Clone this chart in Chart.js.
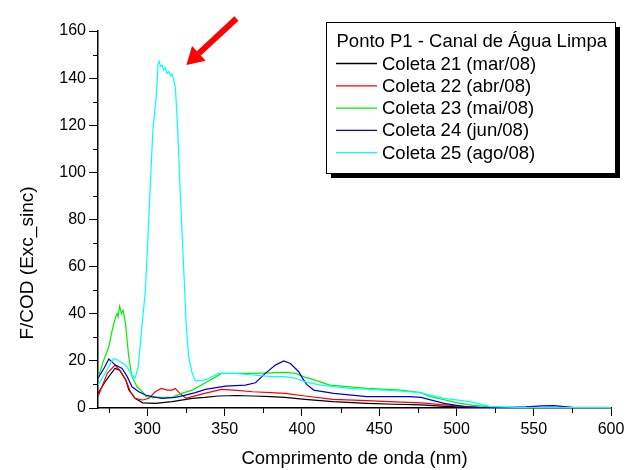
<!DOCTYPE html>
<html>
<head>
<meta charset="utf-8">
<script src="https://cdn.jsdelivr.net/npm/chart.js@4.4.0/dist/chart.umd.min.js"></script>
<style>
html,body{margin:0;padding:0;background:#fff;}
</style>
</head>
<body>
<canvas id="c" width="626" height="470"></canvas>
<script>
'use strict';

// Spectra: wavelength (nm) and F/COD per collection
const wl21 = [268,272,275,279,282,286,288,292,297,305,316,329,337,346,358,368,380,389,402,420,442,460,477,490,500,510,520,600];
const f21  = [6.2,10.5,13.3,16.8,16.1,11.9,7.6,4.1,2.2,2.0,2.7,4.1,4.5,5.1,5.3,5.1,4.8,4.5,3.7,2.7,2.0,1.6,1.3,0.8,0.5,0.3,0.1,0];

const wl22 = [268,274,279,282,286,289,292,297,301,305,309,313,316,318,321,325,329,337,348,358,368,380,389,402,420,442,460,477,492,505,513,525,600];
const f22  = [4.8,14.7,18.2,16.1,11.9,6.9,4.1,3.4,4.1,6.9,8.3,7.6,7.6,8.3,6.2,4.1,4.8,6.2,7.9,7.5,6.9,6.5,6.2,5.1,3.7,3.1,2.6,2.2,1.3,0.7,0.3,0.1,0];

const wl23 = [268,271.7,275,277.2,278.8,280.3,281,282,283.2,284.2,285.8,287.9,290,293.3,297.7,299,305,316,322,329,337,348,358,368,380,389,396,402,405,418,442,464,477,483,492,502,510,520,530,600];
const f23  = [12.7,20.3,26,33,37.3,40.1,38.7,43.2,40.1,41.5,35.9,21.7,13.3,9,6.2,4.8,4.5,4.5,6.2,7.6,10.5,14.7,14.7,14.7,14.9,15.1,14.7,13,12.6,9.7,8.3,7.6,6.5,4.8,3.5,2,1.2,0.6,0.3,0.1];

const wl24 = [268,272,275,279.3,283.6,286.9,290,294.4,298.7,303,309.5,318,324.6,331,337.5,350.5,363.4,369.9,376.3,382.8,388.2,392.5,397.9,400,403,407.6,420.5,442,470,477,492,505,515,530,545,555,563,570,578,600];
const f24  = [12.6,17,20.8,18.2,16.8,13.3,9,6.9,5.5,4.8,4.1,4.5,5.5,6.5,7.9,9.3,9.7,10.7,14.7,18.2,20,18.9,15.4,13,10,7.6,6.2,4.8,4.8,4.5,2,0.6,0.3,0.2,0.5,0.9,1.0,0.6,0.1,0];

const wl25 = [268,272,275,278,281,284,286,290,292,294,296.6,298.7,300.5,302,303.5,305.8,306.9,307.5,308.5,309.5,310.5,311.5,312.5,313.8,315,316,318.1,319.6,320.9,322.5,324.1,325,326.7,329,331,337.5,346,357,368,381,389,396,402,412,431,453,470,477,492,509,522,540,600];
const f25  = [9.7,14,17.5,21,20.3,19,18.2,14,12.6,17.5,35.9,50,75,96.6,117.8,133,146,147.2,145,145.5,143.5,144.5,142,142.8,141,141.8,136,117.8,96.6,73,50,36,21.7,14.7,11.5,11.9,14.7,14.7,14,13.3,13.3,12.6,11.1,9.7,8.3,7.6,6.9,6.4,4.1,2.7,0.6,0.3,0.2];

const seriesLabels = ['Coleta 21 (mar/08)','Coleta 22 (abr/08)','Coleta 23 (mai/08)','Coleta 24 (jun/08)','Coleta 25 (ago/08)'];
const seriesColors = ['#000000','#ff0000','#00f000','#0000d0','#00ffff'];
const legendTitle = 'Ponto P1 - Canal de Água Limpa';

const xTicks = [300,350,400,450,500,550,600];
const xMinor = [275,325,375,425,475,525,575];
const yTicks = [0,20,40,60,80,100,120,140,160];
const yMinor = [10,30,50,70,90,110,130,150];

// arrow pointing at the Coleta 25 peak (data units: [nm, value])
const arrowFrom = [357.6, 165.3];
const arrowTo   = [325.2, 145.6];

const FONT = '"Liberation Sans", Arial, Helvetica, sans-serif';

const pairs = (xs, ys) => xs.map((x, i) => ({x, y: ys[i]}));
const allX = [wl21, wl22, wl23, wl24, wl25];
const allY = [f21, f22, f23, f24, f25];

const datasets = allX.map((xs, i) => ({
  label: seriesLabels[i],
  data: pairs(xs, allY[i]),
  borderColor: seriesColors[i],
  borderWidth: 1.2,
  pointRadius: 0,
  tension: 0,
  order: 5 - i
}));

const decor = {
  id: 'decor',
  afterDraw(chart){
    const {ctx, chartArea: a} = chart;
    const x = chart.scales.x, y = chart.scales.y;
    ctx.save();

    // minor ticks
    ctx.strokeStyle = '#000';
    ctx.lineWidth = 1;
    ctx.beginPath();
    yMinor.forEach(v=>{
      const py = Math.round(y.getPixelForValue(v)) + 0.5;
      ctx.moveTo(a.left - 5, py); ctx.lineTo(a.left, py);
    });
    xMinor.forEach(v=>{
      const px = Math.round(x.getPixelForValue(v)) + 0.5;
      ctx.moveTo(px, a.bottom); ctx.lineTo(px, a.bottom + 5);
    });
    ctx.stroke();

    // y axis title (offset below axis centre like the original)
    ctx.fillStyle = '#000';
    ctx.font = '19px ' + FONT;
    ctx.textAlign = 'center';
    ctx.textBaseline = 'middle';
    ctx.translate(27.5, 263);
    ctx.rotate(-Math.PI/2);
    ctx.fillText('F/COD (Exc_sinc)', 0, 0);
    ctx.setTransform(1,0,0,1,0,0);

    // legend box with drop shadow
    const bx = 326, by = 22, bw = 289, bh = 151;
    ctx.fillStyle = '#000';
    ctx.fillRect(bx + 5, by + 5, bw, bh);
    ctx.fillStyle = '#fff';
    ctx.fillRect(bx, by, bw, bh);
    ctx.strokeStyle = '#000';
    ctx.lineWidth = 1;
    ctx.strokeRect(bx + 0.5, by + 0.5, bw, bh);

    ctx.fillStyle = '#000';
    ctx.font = '18.5px ' + FONT;
    ctx.textAlign = 'left';
    ctx.textBaseline = 'middle';
    ctx.fillText(legendTitle, 336.5, 42);
    seriesLabels.forEach((lab, i)=>{
      const cy = 63.5 + i*22.3;
      ctx.strokeStyle = seriesColors[i];
      ctx.lineWidth = 1.3;
      ctx.beginPath();
      ctx.moveTo(336, cy); ctx.lineTo(377, cy);
      ctx.stroke();
      ctx.fillStyle = '#000';
      ctx.fillText(lab, 382, cy + 1);
    });

    // red arrow
    const tx = x.getPixelForValue(arrowTo[0]), ty = y.getPixelForValue(arrowTo[1]);
    const fx = x.getPixelForValue(arrowFrom[0]), fy = y.getPixelForValue(arrowFrom[1]);
    const ang = Math.atan2(ty - fy, tx - fx);
    const headLen = 17, headHalf = 10;
    const hx = tx - headLen*Math.cos(ang), hy = ty - headLen*Math.sin(ang);
    ctx.strokeStyle = '#ff0000';
    ctx.lineWidth = 6;
    ctx.lineCap = 'butt';
    ctx.beginPath();
    ctx.moveTo(fx, fy); ctx.lineTo(hx, hy);
    ctx.stroke();
    ctx.fillStyle = '#ff0000';
    ctx.beginPath();
    ctx.moveTo(tx, ty);
    ctx.lineTo(hx + headHalf*Math.sin(ang), hy - headHalf*Math.cos(ang));
    ctx.lineTo(hx - headHalf*Math.sin(ang), hy + headHalf*Math.cos(ang));
    ctx.closePath();
    ctx.fill();

    ctx.restore();
  }
};

new Chart(document.getElementById('c'), {
  type: 'line',
  data: { datasets },
  options: {
    responsive: false,
    animation: false,
    layout: { padding: { left: 0, top: 31, right: 15, bottom: 0 } },
    plugins: { legend: { display: false }, tooltip: { enabled: false } },
    scales: {
      x: {
        type: 'linear',
        min: 268, max: 600,
        afterBuildTicks: s => { s.ticks = xTicks.map(v=>({value:v})); },
        afterFit: s => { s.height = 62; s.paddingLeft = 0; s.paddingRight = 0; },
        grid: { display: true, drawOnChartArea: false, drawTicks: true, tickLength: 8, tickColor: '#000', tickWidth: 1 },
        border: { display: true, color: '#000', width: 1.5 },
        ticks: { color: '#000', font: { family: FONT, size: 16 }, padding: 4, maxRotation: 0, autoSkip: false },
        title: { display: true, text: 'Comprimento de onda (nm)', color: '#000', font: { family: FONT, size: 18.5 }, padding: 0 }
      },
      y: {
        min: 0, max: 160,
        afterBuildTicks: s => { s.ticks = yTicks.map(v=>({value:v})); },
        afterFit: s => { s.width = 98; s.paddingTop = 0; s.paddingBottom = 0; },
        grid: { display: true, drawOnChartArea: false, drawTicks: true, tickLength: 9, tickColor: '#000', tickWidth: 1 },
        border: { display: true, color: '#000', width: 1.5 },
        ticks: { color: '#000', font: { family: FONT, size: 16 }, padding: 3, autoSkip: false }
      }
    }
  },
  plugins: [decor]
});
</script>
</body>
</html>
